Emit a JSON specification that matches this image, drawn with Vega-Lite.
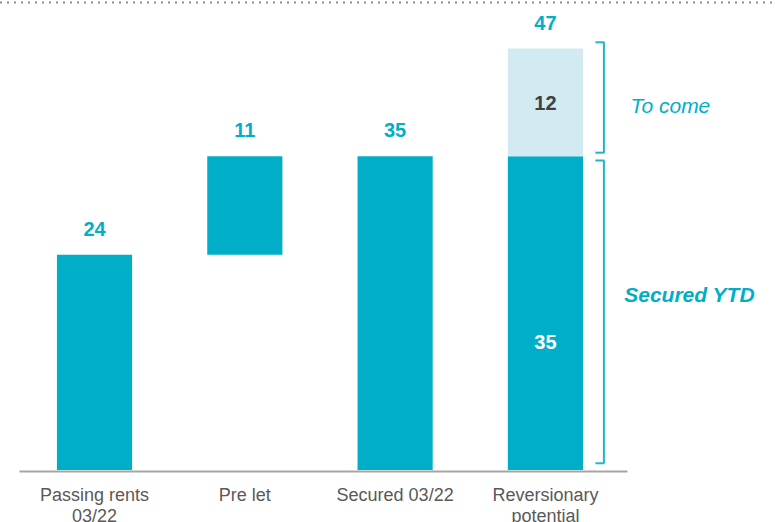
{
  "$schema": "https://vega.github.io/schema/vega-lite/v6.json",
  "width": 775,
  "height": 470,
  "autosize": {"type": "none"},
  "padding": {"left": 0, "top": 0, "right": 0, "bottom": 52},
  "background": "white",
  "config": {
    "view": {"stroke": null},
    "font": "Liberation Sans",
    "text": {"font": "Liberation Sans"}
  },
  "datasets": {
    "bars": [
      {"category": "Passing rents 03/22", "segment": "Secured", "start": 0, "end": 24},
      {"category": "Pre let", "segment": "Secured", "start": 24, "end": 35},
      {"category": "Secured 03/22", "segment": "Secured", "start": 0, "end": 35},
      {"category": "Reversionary potential", "segment": "Secured", "start": 0, "end": 35},
      {"category": "Reversionary potential", "segment": "To come", "start": 35, "end": 47}
    ],
    "totals": [
      {"category": "Passing rents 03/22", "top": 24, "label": "24"},
      {"category": "Pre let", "top": 35, "label": "11"},
      {"category": "Secured 03/22", "top": 35, "label": "35"},
      {"category": "Reversionary potential", "top": 47, "label": "47"}
    ],
    "braces": [
      {"category": "Reversionary potential", "label": "To come", "from": 35.39, "to": 47.7},
      {"category": "Reversionary potential", "label": "Secured YTD", "from": 0.75, "to": 34.52}
    ]
  },
  "encoding": {
    "x": {
      "field": "category",
      "type": "nominal",
      "sort": ["Passing rents 03/22", "Pre let", "Secured 03/22", "Reversionary potential"],
      "scale": {
        "domain": ["Passing rents 03/22", "Pre let", "Secured 03/22", "Reversionary potential"],
        "range": [19, 627],
        "paddingInner": 0.5,
        "paddingOuter": 0.2727,
        "align": 0.463,
        "round": false
      },
      "axis": {
        "title": null,
        "ticks": false,
        "labelAngle": 0,
        "labelFont": "Liberation Sans",
        "labelFontSize": 18,
        "labelColor": "#595959",
        "labelLineHeight": 21,
        "labelPadding": 15,
        "offset": 1,
        "domainColor": "#a6a6a6",
        "domainWidth": 2,
        "labelExpr": "datum.value == 'Passing rents 03/22' ? ['Passing rents', '03/22'] : datum.value == 'Reversionary potential' ? ['Reversionary', 'potential'] : datum.value"
      }
    }
  },
  "layer": [
    {
      "data": {"name": "bars"},
      "mark": {"type": "bar", "cornerRadius": 0},
      "encoding": {
        "y": {"field": "start", "type": "quantitative", "scale": {"domain": [0, 52.42], "nice": false, "zero": true}, "axis": null},
        "y2": {"field": "end"},
        "color": {"field": "segment", "type": "nominal", "scale": {"domain": ["Secured", "To come"], "range": ["#00AEC7", "#D2EAF1"]}, "legend": null}
      }
    },
    {
      "data": {"name": "totals"},
      "mark": {"type": "text", "baseline": "alphabetic", "dy": -19, "fontSize": 20, "fontWeight": "bold", "color": "#00AEC7"},
      "encoding": {
        "y": {"field": "top", "type": "quantitative"},
        "text": {"field": "label"}
      }
    },
    {
      "data": {"values": [{"category": "Reversionary potential", "label": "12"}]},
      "mark": {"type": "text", "baseline": "middle", "fontSize": 20, "fontWeight": "bold", "color": "#404040"},
      "encoding": {
        "y": {"datum": 40.8, "type": "quantitative"},
        "text": {"field": "label"}
      }
    },
    {
      "data": {"values": [{"category": "Reversionary potential", "label": "35"}]},
      "mark": {"type": "text", "baseline": "middle", "fontSize": 20, "fontWeight": "bold", "color": "white"},
      "encoding": {
        "y": {"datum": 14.13, "type": "quantitative"},
        "text": {"field": "label"}
      }
    },
    {
      "data": {"name": "braces"},
      "mark": {"type": "rule", "xOffset": 58.5, "color": "#1FB5CC", "strokeWidth": 2},
      "encoding": {
        "y": {"field": "from", "type": "quantitative"},
        "y2": {"field": "to"}
      }
    },
    {
      "data": {"name": "braces"},
      "mark": {"type": "tick", "orient": "horizontal", "xOffset": 54.5, "size": 9, "thickness": 2, "color": "#1FB5CC", "opacity": 1},
      "encoding": {
        "y": {"field": "from", "type": "quantitative"}
      }
    },
    {
      "data": {"name": "braces"},
      "mark": {"type": "tick", "orient": "horizontal", "xOffset": 54.5, "size": 9, "thickness": 2, "color": "#1FB5CC", "opacity": 1},
      "encoding": {
        "y": {"field": "to", "type": "quantitative"}
      }
    },
    {
      "data": {"values": [{"category": "Reversionary potential", "label": "To come"}]},
      "mark": {"type": "text", "baseline": "alphabetic", "xOffset": 125, "fontSize": 21, "fontStyle": "italic", "color": "#00AEC7"},
      "encoding": {
        "y": {"datum": 39.85, "type": "quantitative"},
        "text": {"field": "label"}
      }
    },
    {
      "data": {"values": [{"category": "Reversionary potential", "label": "Secured YTD"}]},
      "mark": {"type": "text", "baseline": "alphabetic", "xOffset": 144, "fontSize": 21, "fontStyle": "italic", "fontWeight": "bold", "color": "#00AEC7"},
      "encoding": {
        "y": {"datum": 18.77, "type": "quantitative"},
        "text": {"field": "label"}
      }
    },
    {
      "data": {"values": [{"line": "top"}]},
      "mark": {"type": "rule", "color": "#8c8c8c", "strokeWidth": 2, "strokeDash": [2, 5]},
      "encoding": {
        "x": {"value": 0},
        "x2": {"value": {"expr": "width"}},
        "y": {"datum": 52.14, "type": "quantitative"}
      }
    }
  ]
}
